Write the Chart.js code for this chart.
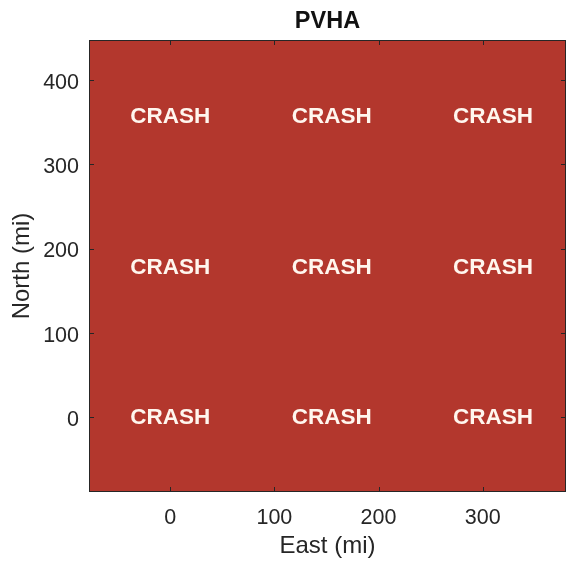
<!DOCTYPE html>
<html>
<head>
<meta charset="utf-8">
<script src="https://cdn.jsdelivr.net/npm/chart.js@4/dist/chart.umd.min.js"></script>
<style>
    html, body { margin: 0; padding: 0; background: #fff; }
    #wrap { width: 570px; height: 563px; }
</style>
</head>
<body>
<div id="wrap"><canvas id="pvha"></canvas></div>
<script>
    // crash markers (east / north, mi)
    const crashEast = [0, 155, 310, 0, 155, 310, 0, 155, 310];
    const crashNorth = [357, 357, 357, 178, 178, 178, 0, 0, 0];
    const crashLabels = ['CRASH', 'CRASH', 'CRASH', 'CRASH', 'CRASH', 'CRASH', 'CRASH', 'CRASH', 'CRASH'];

    const eastTicks = [0, 100, 200, 300];
    const northTicks = [0, 100, 200, 300, 400];
    const eastRange = [-78, 380];
    const northRange = [-89, 447.5];

    const INK = '#262626';
    const FILL = '#b3372d';

    // red field + box + inward ticks, MATLAB style
    const axesBox = {
        id: 'axesBox',
        beforeDatasetsDraw: function (chart) {
            const a = chart.chartArea;
            const ctx = chart.ctx;
            ctx.save();
            ctx.fillStyle = FILL;
            ctx.fillRect(a.left, a.top, a.right - a.left, a.bottom - a.top);
            ctx.restore();
        },
        afterDraw: function (chart) {
            const a = chart.chartArea;
            const ctx = chart.ctx;
            const x = chart.scales.x;
            const y = chart.scales.y;
            const len = 5;
            ctx.save();
            ctx.strokeStyle = INK;
            ctx.lineWidth = 1;
            ctx.strokeRect(a.left + 0.5, a.top + 0.5, a.right - a.left - 1, a.bottom - a.top - 1);
            ctx.beginPath();
            eastTicks.forEach(function (v) {
                const px = Math.round(x.getPixelForValue(v)) + 0.5;
                ctx.moveTo(px, a.bottom); ctx.lineTo(px, a.bottom - len);
                ctx.moveTo(px, a.top); ctx.lineTo(px, a.top + len);
            });
            northTicks.forEach(function (v) {
                const py = Math.round(y.getPixelForValue(v)) + 0.5;
                ctx.moveTo(a.left, py); ctx.lineTo(a.left + len, py);
                ctx.moveTo(a.right, py); ctx.lineTo(a.right - len, py);
            });
            ctx.stroke();

            // title over the axes centre
            ctx.fillStyle = '#111';
            ctx.font = 'bold 23.5px "Liberation Sans", Arial, sans-serif';
            ctx.textAlign = 'center';
            ctx.textBaseline = 'middle';
            ctx.fillText('PVHA', (a.left + a.right) / 2, 22);
            ctx.restore();
        },
    };

    // text labels at the data points
    const crashText = {
        id: 'crashText',
        afterDatasetsDraw: function (chart) {
            const ctx = chart.ctx;
            const meta = chart.getDatasetMeta(0);
            ctx.save();
            ctx.fillStyle = '#fff6ee';
            ctx.font = 'bold 22.5px "Liberation Sans", Arial, sans-serif';
            ctx.textAlign = 'center';
            ctx.textBaseline = 'middle';
            meta.data.forEach(function (pt, i) {
                ctx.fillText(crashLabels[i], pt.x, pt.y + 1);
            });
            ctx.restore();
        },
    };

    const tickFont = { family: '"Liberation Sans", Arial, sans-serif', size: 21.5 };

    new Chart(document.getElementById('pvha'), {
        type: 'scatter',
        data: {
            datasets: [{
                label: 'crash',
                data: crashEast.map(function (e, i) { return { x: e, y: crashNorth[i] }; }),
                pointRadius: 0,
                pointHoverRadius: 0,
            }],
        },
        options: {
            responsive: true,
            maintainAspectRatio: false,
            animation: false,
            events: [],
            layout: { padding: { top: 40, right: 4, left: 0, bottom: 0 } },
            plugins: {
                legend: { display: false },
                tooltip: { enabled: false },
                title: { display: false },
            },
            scales: {
                x: {
                    type: 'linear',
                    min: eastRange[0],
                    max: eastRange[1],
                    afterBuildTicks: function (s) { s.ticks = eastTicks.map(function (v) { return { value: v }; }); },
                    afterFit: function (s) { s.height = 71; },
                    grid: { display: false, drawTicks: false },
                    border: { display: false },
                    ticks: { color: INK, font: tickFont, padding: 13, maxRotation: 0 },
                    title: {
                        display: true,
                        text: 'East (mi)',
                        color: INK,
                        font: { family: '"Liberation Sans", Arial, sans-serif', size: 24 },
                        padding: { top: 0, bottom: 2 },
                    },
                },
                y: {
                    type: 'linear',
                    min: northRange[0],
                    max: northRange[1],
                    afterBuildTicks: function (s) { s.ticks = northTicks.map(function (v) { return { value: v }; }); },
                    afterFit: function (s) { s.width = 89; },
                    grid: { display: false, drawTicks: false },
                    border: { display: false },
                    ticks: { color: INK, font: tickFont, padding: 10, labelOffset: 3 },
                    title: {
                        display: true,
                        text: 'North (mi)',
                        color: INK,
                        font: { family: '"Liberation Sans", Arial, sans-serif', size: 24 },
                        padding: { top: 8, bottom: 0 },
                    },
                },
            },
        },
        plugins: [axesBox, crashText],
    });
</script>
</body>
</html>
